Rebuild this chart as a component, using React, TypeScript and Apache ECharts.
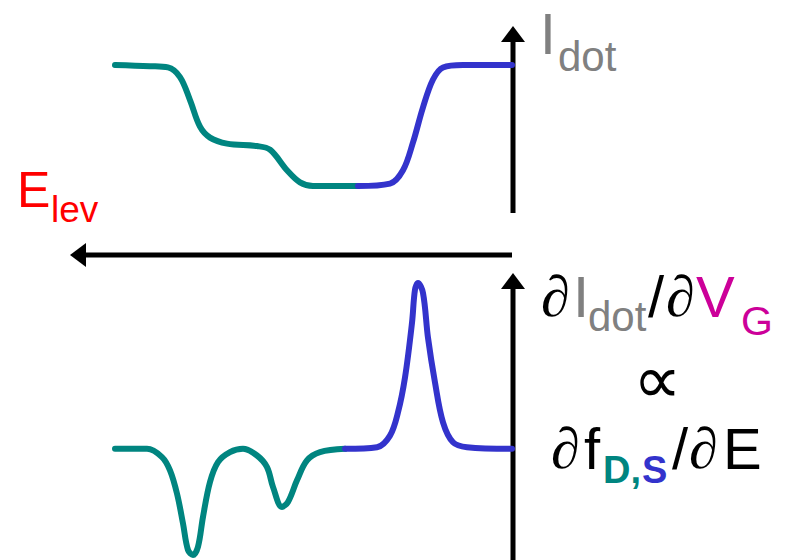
import React, { useEffect, useRef } from "react";
import * as echarts from "echarts";

// x: energy position (arbitrary units, 0..397), y: normalized signal
const topTealX = [0, 35, 53, 65, 75, 85, 95, 112, 142, 155, 172, 185, 198, 243];
const topTealY = [1.0, 0.99, 0.98, 0.9, 0.71, 0.49, 0.4, 0.35, 0.33, 0.3, 0.13, 0.03, 0.0, 0.0];
const topBlueX = [243, 275, 288, 298, 308, 318, 328, 348, 397];
const topBlueY = [0.0, 0.02, 0.13, 0.36, 0.65, 0.88, 0.98, 1.0, 1.0];

const botTealX = [0, 32, 47, 55, 62, 68, 73, 78, 83, 88, 95, 103, 115, 128, 142, 152, 158, 167, 173, 182, 192, 205, 230];
const botTealY = [0, 0, -0.05, -0.13, -0.27, -0.45, -0.61, -0.64, -0.59, -0.41, -0.2, -0.08, -0.02, 0, -0.04, -0.11, -0.23, -0.35, -0.32, -0.19, -0.07, -0.02, 0];
const botBlueX = [230, 262, 275, 283, 290, 297, 300, 303, 308, 313, 320, 328, 338, 352, 397];
const botBlueY = [0, 0.01, 0.08, 0.22, 0.43, 0.76, 0.96, 1.0, 0.94, 0.67, 0.4, 0.16, 0.04, 0.01, 0];

const TEAL = "#008580";
const BLUE = "#3333CC";
const GRAY = "#808080";
const MAGENTA = "#CC0099";
const SANS = "'Liberation Sans', Arial, sans-serif";
const SERIF = "'Liberation Serif', 'Times New Roman', serif";

const zip = (xs: number[], ys: number[]) => xs.map((x, i) => [x, ys[i]]);

function txt(text: string, x: number, y: number, size: number, color: string, opts: any = {}) {
  return {
    type: "text",
    x,
    y,
    style: {
      text,
      fill: color,
      fontSize: size,
      lineHeight: opts.lineHeight || Math.round(size * 1.1),
      fontFamily: opts.family || SANS,
      fontWeight: opts.weight || "normal",
      fontStyle: opts.style || "normal",
      align: opts.align || "left",
      verticalAlign: "middle",
    },
  };
}

export default function App() {
  const ref = useRef<HTMLDivElement>(null);
  useEffect(() => {
    document.body.style.margin = "0";
    const chart = echarts.init(ref.current!, null, { renderer: "svg" });
    const lineSeries = (data: number[][], color: string, idx: number) => ({
      type: "line",
      xAxisIndex: idx,
      yAxisIndex: idx,
      data,
      smooth: 0.35,
      showSymbol: false,
      symbol: "none",
      clip: false,
      lineStyle: { color, width: 6, cap: "round", join: "round" },
    });
    chart.setOption({
      animation: false,
      backgroundColor: "#ffffff",
      grid: [
        { left: 115, width: 397, top: 65, height: 121 },
        { left: 115, width: 397, top: 283, height: 272 },
      ],
      xAxis: [
        { type: "value", gridIndex: 0, min: 0, max: 397, show: false },
        { type: "value", gridIndex: 1, min: 0, max: 397, show: false },
      ],
      yAxis: [
        { type: "value", gridIndex: 0, min: 0, max: 1, show: false },
        { type: "value", gridIndex: 1, min: -0.64, max: 1.0, show: false },
      ],
      series: [
        lineSeries(zip(topTealX, topTealY), TEAL, 0),
        lineSeries(zip(topBlueX, topBlueY), BLUE, 0),
        lineSeries(zip(botTealX, botTealY), TEAL, 1),
        lineSeries(zip(botBlueX, botBlueY), BLUE, 1),
      ],
      graphic: [
        // axes
        { type: "line", shape: { x1: 513, y1: 213, x2: 513, y2: 38 }, style: { stroke: "#000", lineWidth: 5 } },
        { type: "polygon", shape: { points: [[513, 26], [501, 42], [525, 42]] }, style: { fill: "#000" } },
        { type: "line", shape: { x1: 512, y1: 255, x2: 82, y2: 255 }, style: { stroke: "#000", lineWidth: 5 } },
        { type: "polygon", shape: { points: [[70, 255], [86, 243], [86, 267]] }, style: { fill: "#000" } },
        { type: "line", shape: { x1: 513, y1: 560, x2: 513, y2: 285 }, style: { stroke: "#000", lineWidth: 5 } },
        { type: "polygon", shape: { points: [[513, 273], [501, 289], [525, 289]] }, style: { fill: "#000" } },
        // I_dot
        txt("I", 540, 34, 57, GRAY, { lineHeight: 46 }),
        txt("dot", 558, 56, 42, GRAY),
        // E_lev
        txt("E", 17, 190, 50, "#FF0000"),
        txt("lev", 51, 209, 37, "#FF0000"),
        // ∂I_dot/∂V_G
        txt("∂", 541, 296, 58, "#000", { family: SERIF, style: "italic" }),
        txt("I", 573, 296, 58, GRAY),
        txt("dot", 588, 316, 42, GRAY),
        txt("/", 648, 296, 58, "#000"),
        txt("∂", 666, 296, 58, "#000", { family: SERIF, style: "italic" }),
        txt("V", 696, 296, 58, MAGENTA),
        txt("G", 741, 321, 41, MAGENTA),
        // ∝
        txt("∝", 657, 380, 68, "#000", { family: SERIF, align: "center" }),
        // ∂f_D,S/∂E
        txt("∂", 551, 448, 58, "#000", { family: SERIF, style: "italic" }),
        txt("f", 584, 448, 58, "#000"),
        txt("D,", 603, 470, 38, TEAL, { weight: "bold" }),
        txt("S", 642, 470, 38, BLUE, { weight: "bold" }),
        txt("/", 672, 448, 58, "#000"),
        txt("∂", 689, 448, 58, "#000", { family: SERIF, style: "italic" }),
        txt("E", 723, 448, 58, "#000"),
      ],
    });
    return () => chart.dispose();
  }, []);
  return <div ref={ref} style={{ width: 787, height: 560, position: "absolute", left: 0, top: 0 }} />;
}
